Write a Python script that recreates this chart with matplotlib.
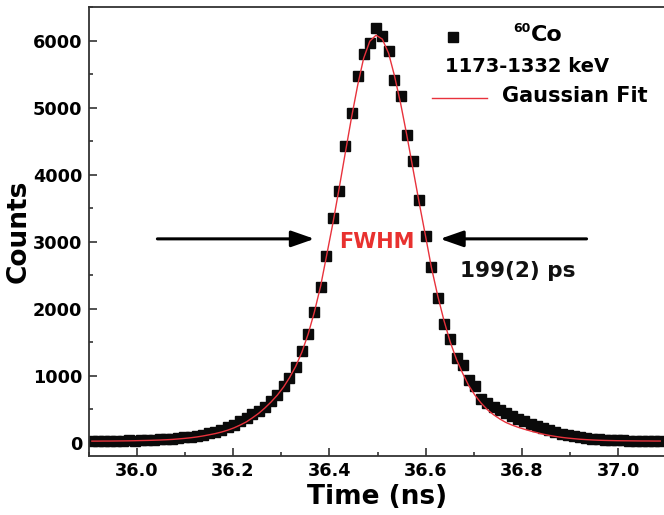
import matplotlib
matplotlib.use("Agg")
import matplotlib.pyplot as plt
from matplotlib.ticker import MultipleLocator

plt.rcParams['font.family'] = ['DejaVu Sans']
plt.rcParams['font.weight'] = 'bold'

# channel times (ns)
time_ns = [35.907, 35.920, 35.932, 35.945, 35.958, 35.971, 35.984, 35.997, 36.009, 36.022,
           36.035, 36.048, 36.061, 36.074, 36.086, 36.099, 36.112, 36.125, 36.138, 36.151,
           36.163, 36.176, 36.189, 36.202, 36.215, 36.228, 36.240, 36.253, 36.266, 36.279,
           36.292, 36.305, 36.317, 36.330, 36.343, 36.356, 36.369, 36.382, 36.394, 36.407,
           36.420, 36.433, 36.446, 36.459, 36.471, 36.484, 36.497, 36.510, 36.523, 36.535,
           36.548, 36.561, 36.574, 36.587, 36.600, 36.612, 36.625, 36.638, 36.651, 36.664,
           36.677, 36.689, 36.702, 36.715, 36.728, 36.741, 36.754, 36.766, 36.779, 36.792,
           36.805, 36.818, 36.831, 36.843, 36.856, 36.869, 36.882, 36.895, 36.908, 36.920,
           36.933, 36.946, 36.959, 36.972, 36.985, 36.997, 37.010, 37.023, 37.036, 37.049,
           37.062, 37.074, 37.087]

# measured counts per channel, 60Co 1173-1332 keV coincidences
counts = [25, 18, 28, 22, 30, 26, 33, 30, 38, 36,
          45, 49, 54, 60, 68, 77, 88, 102, 118, 140,
          165, 192, 228, 262, 318, 365, 420, 478, 537, 616,
          716, 851, 966, 1130, 1373, 1627, 1951, 2328, 2791, 3358,
          3751, 4422, 4921, 5473, 5806, 5970, 6189, 6067, 5843, 5410,
          5172, 4597, 4209, 3616, 3082, 2619, 2157, 1769, 1545, 1269,
          1164, 940, 851, 657, 597, 537, 493, 443, 403, 358,
          321, 284, 246, 216, 187, 157, 134, 112, 97, 82,
          70, 60, 52, 45, 40, 36, 33, 30, 28, 26,
          25, 24, 22]

# fitted curve evaluated on the same channels
fit_counts = [22, 22, 23, 23, 24, 25, 26, 28, 30, 32,
              35, 38, 42, 47, 54, 62, 72, 84, 99, 117,
              134, 157, 185, 220, 262, 310, 368, 435, 515, 606,
              708, 830, 965, 1135, 1350, 1620, 1950, 2340, 2780, 3260,
              3780, 4320, 4850, 5340, 5730, 5990, 6080, 6020, 5810, 5480,
              5060, 4580, 4070, 3560, 3070, 2610, 2190, 1820, 1500, 1240,
              1030, 855, 710, 590, 492, 415, 352, 302, 262, 228,
              199, 172, 148, 127, 108, 92, 78, 67, 58, 50,
              44, 39, 35, 32, 30, 28, 27, 26, 25, 24,
              24, 23, 23]

# half maximum and the resolution quoted
half_max = 3040
fwhm_text = '199(2) ps'


def main():
    fig = plt.figure(figsize=(6.64, 5.15), dpi=100)
    ax = fig.add_axes([0.1333, 0.1146, 0.8705, 0.8718])

    ax.plot(time_ns, counts, 's', color='#0a0a0a', markersize=6.8, zorder=2)
    ax.plot(time_ns, fit_counts, '-', color='#e8323c', lw=1.0, zorder=3)

    ax.set_xlim(35.9, 37.1)
    ax.set_ylim(-200, 6500)
    ax.xaxis.set_major_locator(MultipleLocator(0.2))
    ax.xaxis.set_minor_locator(MultipleLocator(0.1))
    ax.yaxis.set_major_locator(MultipleLocator(1000))
    ax.yaxis.set_minor_locator(MultipleLocator(500))
    ax.xaxis.set_major_formatter(matplotlib.ticker.FormatStrFormatter('%.1f'))

    ax.tick_params(which='both', direction='in', width=1.2, color='#333333',
                   labelsize=12.7, top=False, right=False)
    ax.tick_params(which='major', length=6, pad=4.5)
    ax.tick_params(which='minor', length=3)
    for side in ['left', 'bottom', 'top']:
        ax.spines[side].set_linewidth(1.3)
        ax.spines[side].set_color('#333333')
    ax.spines['right'].set_visible(False)

    ax.set_xlabel('Time (ns)', fontsize=19, fontweight='bold', labelpad=3)
    ax.set_ylabel('Counts', fontsize=19, fontweight='bold', labelpad=1)

    # FWHM arrows
    arrow = dict(arrowstyle='-|>,head_length=1.0,head_width=0.35', lw=2.2,
                 color='black', shrinkA=0, shrinkB=0, mutation_scale=14)
    ax.annotate('', xy=(36.369, half_max), xytext=(36.043, half_max), arrowprops=arrow)
    ax.annotate('', xy=(36.630, half_max), xytext=(36.934, half_max), arrowprops=arrow)
    ax.text(36.499, 3000, 'FWHM', color='#e8312f', fontsize=15, fontweight='bold',
            ha='center', va='center')
    ax.text(36.671, 2560, fwhm_text, color='#111111', fontsize=15.5, fontweight='bold',
            ha='left', va='center')

    # legend drawn by hand
    tr = ax.transAxes
    ax.plot([0.6306], [0.9332], 's', color='#0a0a0a', markersize=6.8, transform=tr,
            clip_on=False)
    ax.text(0.735, 0.952, '60', fontsize=9, fontweight='bold', transform=tr,
            ha='left', va='center')
    ax.text(0.766, 0.937, 'Co', fontsize=16, fontweight='bold', transform=tr,
            ha='left', va='center')
    ax.text(0.617, 0.868, '1173-1332 keV', fontsize=14, fontweight='bold', transform=tr,
            ha='left', va='center')
    ax.plot([0.5938, 0.6889], [0.7984, 0.7984], '-', color='#e8323c', lw=1.0, transform=tr)
    ax.text(0.715, 0.802, 'Gaussian Fit', fontsize=15, fontweight='bold', transform=tr,
            ha='left', va='center')

    fig.savefig('out.png', dpi=100)


main()
